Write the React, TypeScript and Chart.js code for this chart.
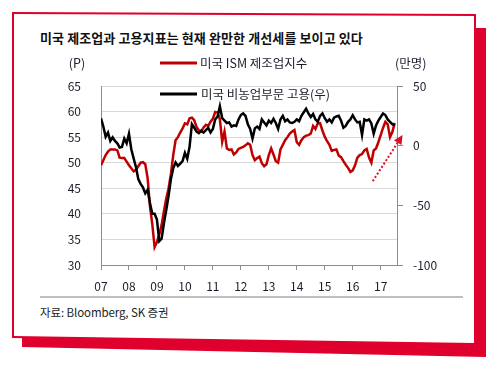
import React, { useEffect, useRef } from 'react';
import { Chart, registerables } from 'chart.js';

Chart.register(...registerables);

const titleText = '미국 제조업과 고용지표는 현재 완만한 개선세를 보이고 있다';
const sourceText = '자료: Bloomberg, SK 증권';
const ismLabel = '미국 ISM 제조업지수';
const payrollLabel = '미국 비농업부문 고용(우)';
const leftUnit = '(P)';
const rightUnit = '(만명)';

// x-axis year labels (one tick every 12 months from Jan 2007)
const yearLabels = ['07', '08', '09', '10', '11', '12', '13', '14', '15', '16', '17'];

// US ISM manufacturing index, monthly from Jan 2007 (left axis, P)
const ismValues = [
  49.5, 50.5, 51.5, 52.2, 52.6, 52.6, 52.6, 52.4, 51.0, 50.9,
  50.9, 50.2, 49.5, 48.9, 48.3, 48.6, 49.3, 50.0, 50.1, 49.7,
  47.0, 41.5, 38.0, 33.5, 34.5, 36.0, 37.8, 40.5, 43.0, 45.0,
  47.8, 51.5, 54.4, 55.0, 55.9, 56.7, 57.7, 57.5, 58.7, 58.8,
  58.3, 57.0, 56.3, 56.1, 56.9, 57.4, 57.2, 58.0, 58.6, 59.9,
  59.8, 58.5, 54.1, 56.1, 52.8, 52.5, 52.6, 51.6, 52.0, 52.7,
  52.9, 53.1, 53.4, 53.8, 53.5, 51.5, 50.5, 50.9, 51.2, 49.9,
  49.3, 49.7, 51.5, 52.8, 51.6, 50.3, 50.0, 52.6, 53.5, 54.4,
  55.0, 55.7, 56.1, 56.4, 54.0, 53.5, 54.4, 55.0, 55.3, 55.4,
  55.7, 57.2, 56.6, 57.7, 57.7, 56.3, 55.1, 54.2, 53.5, 52.3,
  52.5, 52.6, 51.4, 51.1, 50.3, 49.6, 49.0, 48.2, 48.5, 49.5,
  51.0, 51.5, 51.7, 52.4, 52.7, 51.0, 50.0, 52.4, 52.8, 54.0,
  55.4, 56.8, 58.0, 57.5, 55.0, 56.0, 57.8,
];

// US nonfarm payrolls change, monthly from Jan 2007 (right axis, 만명)
const payrollValues = [
  23, 16, 7.5, 11, 4, 7, 4, 2, -1.5, -1,
  6, 2, 10, -3, -10.6, -18, -28, -32, -35, -40,
  -37, -48, -57, -57, -62, -80, -78, -65, -54, -42,
  -28, -19, -14, -17, -15, -13, -6, -11, -1, 18,
  15, 11.7, 10.5, 12.5, 11, 13, 15, 11, 14, 22,
  24.5, 33, 23, 21, 19, 19.5, 16, 17, 16.5, 22,
  25.7, 27, 25, 18, 14, 6, 14.5, 16, 14, 22,
  19.5, 17, 21, 19, 22.5, 19, 14, 22, 25, 20.5,
  22, 19.5, 19, 20, 22, 20.5, 25, 28, 31, 27,
  24, 26.5, 22, 20, 25, 27, 23, 20, 22, 19.5,
  23.5, 24.5, 25, 21, 15, 16.5, 20, 22, 25.5, 22,
  19.5, 20, 9, 22, 21, 22, 18.7, 10, 17, 21,
  24, 27, 25.7, 22, 20, 18, 17,
];

// annotation arrow in data space (month index, left-axis value)
const arrowFrom = [116.6, 46.4];
const arrowTo = [129.4, 55.4];

const FONT = "'Noto Sans CJK KR', 'Noto Sans', sans-serif";
const TEXT = '#1c1c2c';
const RED = '#c00000';
const FRAME = '#e0002d';
const AXIS = '#8c8c8c';

const overlayPlugin = {
  id: 'overlay',
  afterDatasetsDraw(chart: any) {
    const { ctx, chartArea: a, scales } = chart;
    ctx.save();
    ctx.font = `12.5px ${FONT}`;
    ctx.textBaseline = 'middle';
    ctx.fillStyle = TEXT;
    ctx.textAlign = 'center';
    ctx.fillText(leftUnit, a.left - 24, a.top - 23);
    ctx.textAlign = 'left';
    ctx.fillText(rightUnit, a.right - 2, a.top - 23);

    ctx.lineWidth = 3;
    ctx.strokeStyle = RED;
    ctx.beginPath();
    ctx.moveTo(a.left + 59, a.top - 23);
    ctx.lineTo(a.left + 96, a.top - 23);
    ctx.stroke();
    ctx.fillText(ismLabel, a.left + 99, a.top - 23);

    ctx.strokeStyle = '#000';
    ctx.beginPath();
    ctx.moveTo(a.left + 59, a.top + 8);
    ctx.lineTo(a.left + 96, a.top + 8);
    ctx.stroke();
    ctx.fillText(payrollLabel, a.left + 100, a.top + 8);

    // dotted arrow
    const x0 = scales.x.getPixelForValue(arrowFrom[0]);
    const y0 = scales.y.getPixelForValue(arrowFrom[1]);
    const x1 = scales.x.getPixelForValue(arrowTo[0]);
    const y1 = scales.y.getPixelForValue(arrowTo[1]);
    const ang = Math.atan2(y1 - y0, x1 - x0);
    const head = 9;
    const bx = x1 - head * Math.cos(ang);
    const by = y1 - head * Math.sin(ang);
    ctx.strokeStyle = '#d8102a';
    ctx.fillStyle = '#d8102a';
    ctx.lineWidth = 2;
    ctx.setLineDash([2, 2]);
    ctx.beginPath();
    ctx.moveTo(x0, y0);
    ctx.lineTo(bx, by);
    ctx.stroke();
    ctx.setLineDash([]);
    const px = -Math.sin(ang) * 4.5;
    const py = Math.cos(ang) * 4.5;
    ctx.beginPath();
    ctx.moveTo(x1, y1);
    ctx.lineTo(bx + px, by + py);
    ctx.lineTo(bx - px, by - py);
    ctx.closePath();
    ctx.fill();
    ctx.restore();
  },
};

function ChartCanvas() {
  const ref = useRef<HTMLCanvasElement | null>(null);
  useEffect(() => {
    if (!ref.current) return;
    const tickFont = { family: FONT, size: 12 };
    const chart = new Chart(ref.current, {
      type: 'line',
      data: {
        datasets: [
          {
            label: payrollLabel,
            data: payrollValues.map((v, i) => ({ x: i, y: v })),
            yAxisID: 'y1',
            borderColor: '#000',
            borderWidth: 2.5,
            pointRadius: 0,
            tension: 0,
            order: 0,
          },
          {
            label: ismLabel,
            data: ismValues.map((v, i) => ({ x: i, y: v })),
            yAxisID: 'y',
            borderColor: RED,
            borderWidth: 2.5,
            pointRadius: 0,
            tension: 0,
            order: 1,
          },
        ],
      },
      options: {
        responsive: false,
        animation: false,
        devicePixelRatio: 1,
        layout: { padding: { left: 60, right: 59, top: 86, bottom: 84 } },
        plugins: { legend: { display: false }, tooltip: { enabled: false }, title: { display: false } },
        scales: {
          x: {
            type: 'linear',
            min: 0,
            max: 127,
            afterBuildTicks: (s: any) => {
              s.ticks = yearLabels.map((_, i) => ({ value: i * 12 }));
            },
            afterFit: (s: any) => {
              s.height = 30;
            },
            ticks: {
              callback: (v: any) => yearLabels[Math.round(Number(v) / 12)] ?? '',
              font: tickFont,
              color: TEXT,
              padding: 9,
              maxRotation: 0,
              autoSkip: false,
            },
            grid: { drawOnChartArea: false, drawTicks: true, tickLength: 5, color: AXIS },
            border: { color: AXIS, width: 1 },
          },
          y: {
            position: 'left',
            min: 30,
            max: 65,
            afterFit: (s: any) => {
              s.width = 41;
            },
            ticks: { stepSize: 5, padding: 20, font: tickFont, color: TEXT },
            grid: { color: '#d9d9d9', drawTicks: false },
            border: { color: AXIS, width: 1 },
          },
          y1: {
            position: 'right',
            min: -100,
            max: 50,
            afterFit: (s: any) => {
              s.width = 40;
            },
            ticks: { stepSize: 50, padding: 10, font: tickFont, color: TEXT },
            grid: { drawOnChartArea: false, drawTicks: true, tickLength: 6, color: AXIS },
            border: { color: AXIS, width: 1 },
          },
        },
      },
      plugins: [overlayPlugin],
    } as any);
    return () => chart.destroy();
  }, []);
  return (
    <canvas
      ref={ref}
      width={496}
      height={379}
      style={{ position: 'absolute', left: 0, top: 0, width: 496, height: 379 }}
    />
  );
}

export default function App() {
  return (
    <div
      style={{
        position: 'absolute',
        left: 0,
        top: 0,
        width: 496,
        height: 379,
        background: '#fff',
        overflow: 'hidden',
        fontFamily: FONT,
      }}
    >
      <svg width={496} height={379} style={{ position: 'absolute', left: 0, top: 0 }}>
        <polygon points="22,28 486,28 486,357 22,347" fill={FRAME} />
        <polygon points="12,12 476,14 476,345 12,338" fill={FRAME} />
        <polygon points="14,14 474,16 474,343 14,336" fill="#fff" />
      </svg>
      <div
        style={{
          position: 'absolute',
          left: 40,
          top: 29,
          fontSize: 13,
          lineHeight: '17px',
          fontWeight: 700,
          color: '#111',
          whiteSpace: 'nowrap',
          letterSpacing: '0.1px',
        }}
      >
        {titleText}
      </div>
      <div style={{ position: 'absolute', left: 40, top: 296, width: 423, height: 2, background: '#bfbfbf' }} />
      <div
        style={{
          position: 'absolute',
          left: 40,
          top: 305,
          fontSize: 11.5,
          lineHeight: '15px',
          color: '#222',
          whiteSpace: 'nowrap',
          letterSpacing: '-0.1px',
        }}
      >
        {sourceText}
      </div>
      <ChartCanvas />
    </div>
  );
}
